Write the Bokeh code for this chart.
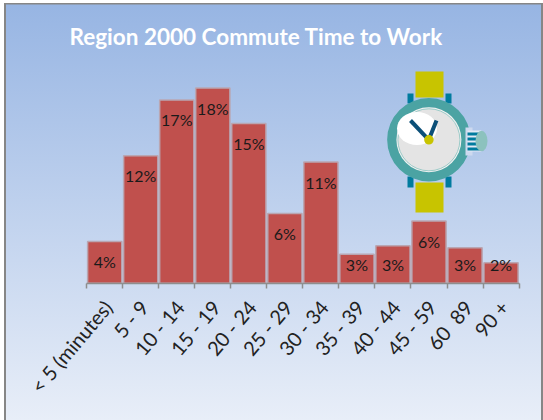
from bokeh.embed import file_html
from bokeh.resources import INLINE
from bokeh.plotting import figure
from bokeh.models import ColumnDataSource, LinearAxis, FixedTicker, Range1d
from bokeh.core.properties import value

categories = ["< 5 (minutes)", "5 - 9", "10 - 14", "15 - 19", "20 - 24", "25 - 29",
              "30 - 34", "35 - 39", "40 - 44", "45 - 59", "60\u00a0\u00a089", "90 +"]
shares = [3.9, 11.9, 17.1, 18.2, 14.9, 6.5, 11.3, 2.7, 3.5, 5.8, 3.3, 1.9]
labels = ["4%", "12%", "17%", "18%", "15%", "6%", "11%", "3%", "3%", "6%", "3%", "2%"]

W, H = 543, 420
FRAME_TOP = 50
X0, PITCH = 86.2, 36.03      # pixel of first tick, pixels per category
Y0, SCALE = 282.7, 10.72     # pixel of baseline, pixels per percent

x_range = Range1d(-X0 / PITCH, (W - X0) / PITCH)
y_range = Range1d((Y0 - H) / SCALE, (Y0 - FRAME_TOP) / SCALE)

p = figure(width=W, height=H, frame_width=W, frame_height=H - FRAME_TOP,
           x_range=x_range, y_range=y_range, x_axis_type=None, y_axis_type=None,
           toolbar_location=None, output_backend="svg",
           min_border=0, min_border_top=FRAME_TOP, margin=(0, 0, 0, 0))
p.grid.visible = False
p.outline_line_color = None
p.background_fill_alpha = 0
p.border_fill_alpha = 0
GRAY = "linear-gradient(#868686, #868686)"
p.styles = {"background": ", ".join([
    f"{GRAY} 4px 3px / 537px 1.5px no-repeat",
    f"{GRAY} 4px 3px / 2px 417px no-repeat",
    f"{GRAY} 541px 3px / 2px 417px no-repeat",
    "linear-gradient(#97B5E3, #E8EEF8) 6px 4px / 535px 416px no-repeat",
    "white",
])}

p.title.text = "Region 2000 Commute Time to Work"
p.title.text_color = "white"
p.title.text_font = "Lato"
p.title.text_font_size = "22.5px"
p.title.text_font_style = "bold"
p.title.align = "left"
p.title.offset = 69
p.title.standoff = 1

p.extra_x_ranges["px"] = Range1d(0, W)
p.extra_y_ranges["px"] = Range1d(H, FRAME_TOP)

centers = [i + 0.5 for i in range(len(categories))]
src = ColumnDataSource(dict(
    x=centers, top=shares, cat=categories, lab=labels,
    lab_y=[max(v - 1.87, 1.75) for v in shares],
))

p.vbar(x="x", top="top", bottom=0, width=0.95, source=src,
       fill_color="#C0504D", line_color="#B9A6B2", line_width=1.5)

axis = LinearAxis(ticker=FixedTicker(ticks=list(range(len(categories) + 1))),
                  bounds=(0, len(categories)),
                  fixed_location=0, axis_line_color="#8E8E8E", axis_line_width=1.5,
                  major_tick_line_color="#8E8E8E", major_tick_line_width=1.5,
                  major_tick_in=0, major_tick_out=5, minor_tick_line_color=None,
                  major_label_text_font_size="0px", major_label_text_color=None)
p.add_layout(axis, "below")

p.text(x="x", y="lab_y", text="lab", source=src, text_font=value("Lato"),
       text_font_size="16px", text_color="#1A1A1A", text_align="center",
       text_baseline="middle")
p.text(x="x", y=0, text="cat", source=src, text_font=value("Lato"),
       text_font_size="20px", text_color="#222222", text_align="right",
       text_baseline="middle", angle=0.87, x_offset=3, y_offset=20)

# watch illustration, in pixel coordinates
px = dict(x_range_name="px", y_range_name="px")
TEAL, RING, YEL, NAVY = "#007B9E", "#4BA3A3", "#C8C400", "#0B4F78"
p.quad(left=[415, 415], right=[443, 443], top=[71, 182], bottom=[97, 212],
       fill_color=YEL, line_color=None, **px)
p.quad(left=[407, 445, 407, 445], right=[413, 451, 413, 451],
       top=[93, 93, 176, 176], bottom=[103, 103, 187, 187],
       fill_color=TEAL, line_color=None, **px)
p.ellipse(x=[428.4], y=[139.3], width=[83.5], height=[83.5], fill_color=RING, line_color=None, **px)
p.quad(left=[465], right=[472], top=[127], bottom=[155], fill_color="#CDD9EF", line_color=None, **px)
p.quad(left=[467], right=[481], top=[130], bottom=[151], fill_color="#E2EAF5", line_color=None, **px)
p.quad(left=[467] * 4, right=[481] * 4, top=[132, 137, 142, 147], bottom=[135, 140, 145, 150],
       fill_color=TEAL, line_color=None, **px)
p.ellipse(x=[481], y=[140.5], width=[12], height=[20.5], fill_color="#8CC2BE", line_color=None, **px)
p.ellipse(x=[428.4], y=[139.3], width=[65], height=[65], fill_color="#F2F2F2", line_color=None, **px)
p.ellipse(x=[428.4], y=[139.3], width=[62], height=[62], fill_color="#E4E4E4", line_color="#9CCBC8", line_width=1, **px)
p.ellipse(x=[416.5], y=[128], width=[40], height=[33], fill_color="white", line_color=None, **px)
p.segment(x0=[428.3, 428.3], y0=[139.3, 139.3], x1=[410, 436], y1=[120, 120],
          line_color=NAVY, line_width=4, **px)
p.ellipse(x=[428.4], y=[139.3], width=[9.5], height=[9.5], fill_color=YEL, line_color=None, **px)

open("out.html", "w").write(file_html(p, INLINE))
